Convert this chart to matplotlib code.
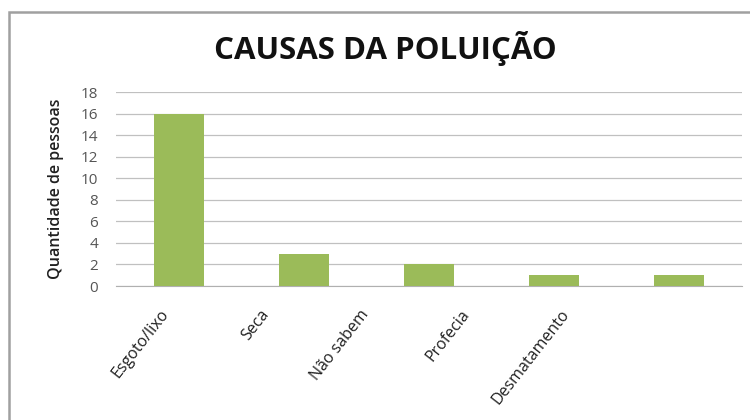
import matplotlib
matplotlib.use("Agg")
import matplotlib.pyplot as plt
from matplotlib.patches import Rectangle

categories = ["Esgoto/lixo", "Seca", "Não sabem", "Profecia", "Desmatamento"]
values = [16, 3, 2, 1, 1]
yticks = [0, 2, 4, 6, 8, 10, 12, 14, 16, 18]

fig = plt.figure(figsize=(7.5, 4.2), dpi=100)
W, H = 750, 420
# chart area border
fig.add_artist(Rectangle((9 / W, -0.05), 1.0, (H - 12) / H + 0.05, transform=fig.transFigure,
                         fill=False, edgecolor="#a0a0a0", linewidth=1.8))

ax = fig.add_axes([116 / W, 1 - 286 / H, (742 - 116) / W, (286 - 92) / H])
x = list(range(len(categories)))
ax.bar(x, values, width=0.4, color="#9BBB59", zorder=3)
ax.set_xlim(-0.5, len(categories) - 0.5)
ax.set_ylim(0, 18)
ax.set_yticks(yticks)
ax.set_yticklabels([str(v) for v in yticks], family="Open Sans", fontsize=11, color="#555555")
ax.set_xticks(x)
ax.set_xticklabels([])
ax.grid(axis="y", color="#c0c0c0", linewidth=0.9, zorder=0)
for s in ["top", "right", "left"]:
    ax.spines[s].set_visible(False)
ax.spines["bottom"].set_color("#b0b0b0")
ax.tick_params(axis="both", length=0)
ax.tick_params(axis="y", pad=13)
ax.set_ylabel("Quantidade de pessoas", family="Open Sans", fontweight="semibold",
              fontsize=11.5, labelpad=12, color="#202020")

# category labels (Excel places rotated labels on a narrower slot grid)
lab = fig.add_axes([110 / W, 1 - 286 / H, 500 / W, 0.001])
lab.set_xlim(-0.5, len(categories) - 0.5)
lab.set_xticks(x)
lab.set_xticklabels(categories, rotation=52, ha="right", va="top", rotation_mode="anchor",
                    family="Open Sans", fontsize=11.5, color="#202020")
lab.tick_params(axis="x", length=0, pad=15)
lab.set_yticks([])
for s in lab.spines.values():
    s.set_visible(False)
lab.patch.set_alpha(0)

fig.text(385 / W, 1 - 49 / H, "CAUSAS DA POLUIÇÃO", ha="center", va="center",
         family="Open Sans", fontweight="bold", fontsize=22.5, color="#111111")

fig.savefig("out.png", dpi=100)
